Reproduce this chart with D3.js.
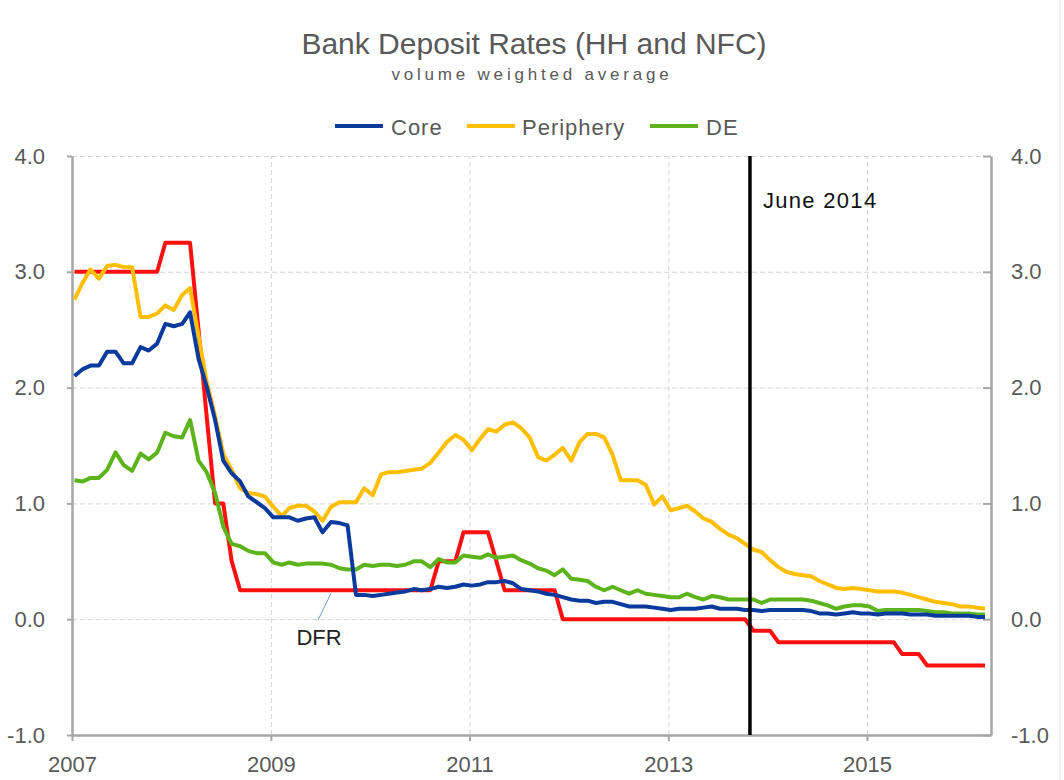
<!DOCTYPE html>
<html>
<head>
<meta charset="utf-8">
<script src="https://cdn.jsdelivr.net/npm/d3@7"></script>
<style>
  body { margin: 0; background: #fff; }
  svg text { font-family: "Liberation Sans", Arial, sans-serif; }
</style>
</head>
<body>
<script>
// monthly observations, Jan 2007 - Mar 2016
var months = d3.timeMonth.range(new Date(2007, 0, 1), new Date(2016, 3, 1))
               .map(function(d) { return d3.timeDay.offset(d, 9); });

var core = [2.10,2.16,2.19,2.19,2.31,2.31,2.21,2.21,2.35,2.32,
            2.38,2.55,2.53,2.55,2.65,2.25,2.01,1.72,1.37,1.26,
            1.19,1.06,1.01,0.96,0.88,0.88,0.88,0.85,0.87,0.88,
            0.75,0.84,0.83,0.81,0.21,0.21,0.20,0.21,0.22,0.23,
            0.24,0.26,0.25,0.26,0.28,0.27,0.28,0.30,0.29,0.30,
            0.32,0.32,0.33,0.31,0.26,0.25,0.24,0.22,0.21,0.19,
            0.17,0.16,0.16,0.14,0.15,0.15,0.13,0.11,0.11,0.11,
            0.10,0.09,0.08,0.09,0.09,0.09,0.10,0.11,0.09,0.09,
            0.09,0.08,0.08,0.07,0.08,0.08,0.08,0.08,0.08,0.07,
            0.05,0.05,0.04,0.05,0.06,0.05,0.05,0.04,0.05,0.05,
            0.05,0.04,0.04,0.04,0.03,0.03,0.03,0.03,0.03,0.02,
            0.02];

var periphery = [2.76,2.91,3.02,2.94,3.05,3.06,3.04,3.04,2.61,2.61,
                 2.64,2.71,2.67,2.80,2.86,2.45,2.05,1.75,1.43,1.29,
                 1.13,1.09,1.08,1.06,0.97,0.89,0.96,0.98,0.98,0.93,
                 0.85,0.97,1.01,1.01,1.01,1.13,1.07,1.25,1.27,1.27,
                 1.28,1.29,1.30,1.35,1.44,1.53,1.59,1.55,1.46,1.56,
                 1.64,1.62,1.68,1.70,1.65,1.57,1.40,1.37,1.42,1.48,
                 1.37,1.53,1.60,1.60,1.57,1.42,1.20,1.20,1.20,1.16,
                 0.99,1.06,0.94,0.96,0.98,0.93,0.87,0.84,0.78,0.73,
                 0.70,0.65,0.60,0.58,0.51,0.45,0.41,0.39,0.38,0.37,
                 0.33,0.30,0.27,0.26,0.27,0.26,0.25,0.24,0.24,0.24,
                 0.23,0.21,0.19,0.17,0.15,0.14,0.13,0.11,0.11,0.10,
                 0.09];

var de = [1.20,1.19,1.22,1.22,1.29,1.44,1.33,1.28,1.43,1.38,
          1.44,1.61,1.58,1.57,1.72,1.37,1.27,1.09,0.80,0.65,
          0.63,0.59,0.57,0.57,0.49,0.47,0.49,0.47,0.48,0.48,
          0.48,0.47,0.44,0.43,0.43,0.47,0.46,0.47,0.47,0.46,
          0.47,0.50,0.50,0.45,0.52,0.49,0.49,0.55,0.54,0.53,
          0.56,0.53,0.54,0.55,0.51,0.48,0.44,0.42,0.38,0.43,
          0.35,0.34,0.33,0.28,0.25,0.28,0.25,0.22,0.25,0.22,
          0.21,0.20,0.19,0.19,0.22,0.19,0.17,0.20,0.19,0.17,
          0.17,0.17,0.17,0.14,0.17,0.17,0.17,0.17,0.17,0.16,
          0.14,0.12,0.09,0.11,0.12,0.12,0.11,0.07,0.08,0.08,
          0.08,0.08,0.08,0.07,0.06,0.06,0.05,0.05,0.05,0.04,
          0.04];

// ECB deposit facility rate
var dfr = [3.00,3.00,3.00,3.00,3.00,3.00,3.00,3.00,3.00,3.00,
           3.00,3.25,3.25,3.25,3.25,2.50,1.75,1.00,1.00,0.50,
           0.25,0.25,0.25,0.25,0.25,0.25,0.25,0.25,0.25,0.25,
           0.25,0.25,0.25,0.25,0.25,0.25,0.25,0.25,0.25,0.25,
           0.25,0.25,0.25,0.25,0.50,0.50,0.50,0.75,0.75,0.75,
           0.75,0.50,0.25,0.25,0.25,0.25,0.25,0.25,0.25,0.00,
           0.00,0.00,0.00,0.00,0.00,0.00,0.00,0.00,0.00,0.00,
           0.00,0.00,0.00,0.00,0.00,0.00,0.00,0.00,0.00,0.00,
           0.00,0.00,-0.10,-0.10,-0.10,-0.20,-0.20,-0.20,-0.20,-0.20,
           -0.20,-0.20,-0.20,-0.20,-0.20,-0.20,-0.20,-0.20,-0.20,-0.20,
           -0.30,-0.30,-0.30,-0.40,-0.40,-0.40,-0.40,-0.40,-0.40,-0.40,
           -0.40];

var seriesNames = ["Core", "Periphery", "DE"];
var seriesColors = ["#0a3a9c", "#ffbe00", "#5cb31c"];
var dfrColor = "#ff1010";

var yTicks = [-1, 0, 1, 2, 3, 4];
var xTickYears = [2007, 2009, 2011, 2013, 2015];
var markerDate = new Date(2013, 9, 28);
var markerLabel = "June 2014";

// layout
var width = 1064, height = 780;
var plotLeft = 72, plotRight = 991, plotTop = 156, plotBottom = 735;
var fontColor = "#595959";

var svg = d3.select("body").append("svg")
            .attr("width", width)
            .attr("height", height);

var x = d3.scaleTime()
          .domain([new Date(2007, 0, 1), new Date(2016, 3, 1)])
          .range([plotLeft, plotRight]);
var y = d3.scaleLinear()
          .domain([-1, 4])
          .range([plotBottom, plotTop]);

// plain hyphen minus, as in the original
var tickFmt = function(d) { return d.toFixed(1); };

// faint outer border on the right edge
svg.append("line")
   .attr("x1", width - 4).attr("x2", width - 4)
   .attr("y1", 0).attr("y2", height)
   .attr("stroke", "#e4e4e4").attr("stroke-width", 1);

// title
svg.append("text")
   .attr("x", 534).attr("y", 54)
   .attr("text-anchor", "middle")
   .attr("font-size", 30)
   .attr("fill", fontColor)
   .text("Bank Deposit Rates (HH and NFC)");
svg.append("text")
   .attr("x", 532).attr("y", 80)
   .attr("text-anchor", "middle")
   .attr("font-size", 17)
   .attr("letter-spacing", 3.8)
   .attr("fill", fontColor)
   .text("volume weighted average");

// gridlines
var gridY = svg.append("g")
   .attr("transform", "translate(" + plotLeft + ",0)")
   .call(d3.axisLeft(y).tickValues(yTicks.filter(function(v) { return v > -1; }))
           .tickSize(-(plotRight - plotLeft)).tickFormat(""));
gridY.select(".domain").remove();
gridY.selectAll("line").attr("stroke", "#d4d4d4").attr("stroke-dasharray", "5,3");

var gridX = svg.append("g")
   .attr("transform", "translate(0," + plotBottom + ")")
   .call(d3.axisBottom(x).tickValues(xTickYears.slice(1).map(function(yr) { return new Date(yr, 0, 1); }))
           .tickSize(-(plotBottom - plotTop)).tickFormat(""));
gridX.select(".domain").remove();
gridX.selectAll("line").attr("stroke", "#d4d4d4").attr("stroke-dasharray", "5,3");

// axes
var axisColor = "#a6a6a6";
var yLeft = svg.append("g")
   .attr("transform", "translate(" + plotLeft + ",0)")
   .call(d3.axisLeft(y).tickValues(yTicks).tickFormat(tickFmt)
           .tickSize(5).tickSizeOuter(0).tickPadding(22));
var yRight = svg.append("g")
   .attr("transform", "translate(" + plotRight + ",0)")
   .call(d3.axisRight(y).tickValues(yTicks).tickFormat(tickFmt)
           .tickSize(-8).tickSizeOuter(0).tickPadding(20));
var xAxis = svg.append("g")
   .attr("transform", "translate(0," + plotBottom + ")")
   .call(d3.axisBottom(x).tickValues(xTickYears.map(function(yr) { return new Date(yr, 0, 1); }))
           .tickFormat(d3.timeFormat("%Y"))
           .tickSize(6).tickSizeOuter(0).tickPadding(15));

[yLeft, yRight, xAxis].forEach(function(g) {
  g.select(".domain").attr("stroke", axisColor).attr("stroke-width", 2.5);
  g.selectAll(".tick line").attr("stroke", axisColor).attr("stroke-width", 2);
  g.selectAll(".tick text").attr("fill", fontColor).attr("font-size", 22)
   .attr("font-family", "Liberation Sans, Arial, sans-serif");
});

// lines
var line = d3.line()
             .x(function(d, i) { return x(months[i]); })
             .y(function(d) { return y(d); });

svg.append("path")
   .datum(dfr)
   .attr("d", line)
   .attr("fill", "none")
   .attr("stroke", dfrColor)
   .attr("stroke-width", 4)
   .attr("stroke-linejoin", "round");

[de, periphery, core].forEach(function(s, k) {
  svg.append("path")
     .datum(s)
     .attr("d", line)
     .attr("fill", "none")
     .attr("stroke", seriesColors[2 - k])
     .attr("stroke-width", 4)
     .attr("stroke-linejoin", "round");
});

// June 2014 marker
svg.append("line")
   .attr("x1", x(markerDate)).attr("x2", x(markerDate))
   .attr("y1", y(4)).attr("y2", y(-1))
   .attr("stroke", "#000").attr("stroke-width", 3.5);
svg.append("text")
   .attr("x", x(markerDate) + 13).attr("y", y(3.55))
   .attr("font-size", 22)
   .attr("letter-spacing", 1.3)
   .attr("fill", "#111")
   .text(markerLabel);

// DFR annotation
var dfrIdx = 31;
svg.append("line")
   .attr("x1", x(months[dfrIdx])).attr("y1", y(dfr[dfrIdx]) + 3)
   .attr("x2", x(months[dfrIdx]) - 13).attr("y2", y(dfr[dfrIdx]) + 30)
   .attr("stroke", "#6a9fd4").attr("stroke-width", 1);
svg.append("text")
   .attr("x", x(months[dfrIdx]) - 12).attr("y", y(dfr[dfrIdx]) + 55)
   .attr("text-anchor", "middle")
   .attr("font-size", 22)
   .attr("fill", "#222")
   .text("DFR");

// legend
var legendX = [335, 467, 650];
var legend = svg.selectAll(".legend")
   .data(seriesNames)
   .enter().append("g")
   .attr("class", "legend")
   .attr("transform", function(d, i) { return "translate(" + legendX[i] + ",126)"; });
legend.append("line")
   .attr("x1", 0).attr("x2", 48)
   .attr("stroke", function(d, i) { return seriesColors[i]; })
   .attr("stroke-width", 4);
legend.append("text")
   .attr("x", function(d, i) { return i === 1 ? 55 : 56; })
   .attr("y", 9)
   .attr("font-size", 22)
   .attr("letter-spacing", 1)
   .attr("fill", fontColor)
   .text(function(d) { return d; });
</script>
</body>
</html>
